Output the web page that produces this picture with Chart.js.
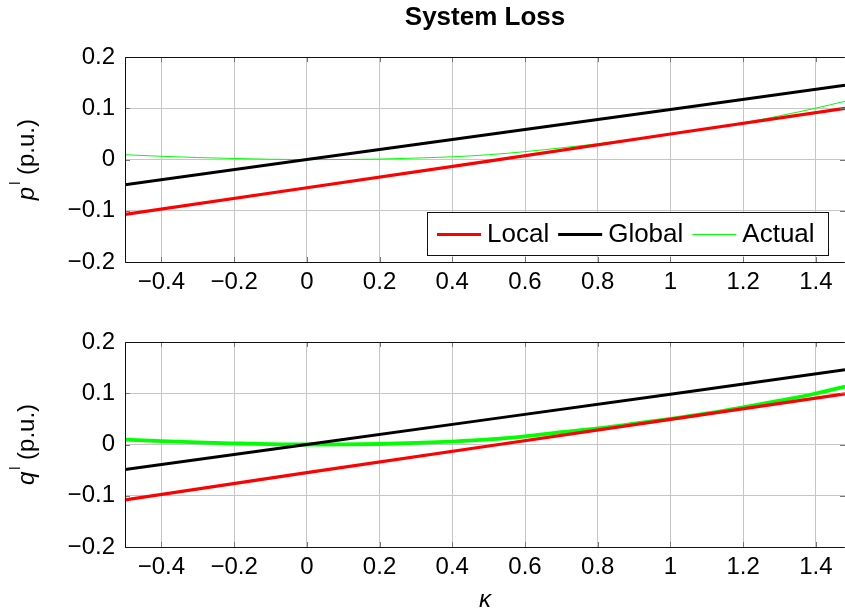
<!DOCTYPE html>
<html>
<head>
<meta charset="utf-8">
<script src="https://cdn.jsdelivr.net/npm/chart.js@4.4.1/dist/chart.umd.min.js"></script>
<style>
  html, body { margin: 0; padding: 0; background: #fff; }
  .panel { position: relative; width: 845px; }
  #panelP { height: 300px; }
  #panelQ { height: 315px; }
</style>
</head>
<body>
<div class="panel" id="panelP"><canvas id="chartP"></canvas></div>
<div class="panel" id="panelQ"><canvas id="chartQ"></canvas></div>
<script>
// ---- data ----
const seriesNames = ['Local', 'Global', 'Actual'];

// straight-line approximations (Local, Global)
const kappaLine = [-0.5, 0, 0.5, 1, 1.48];
const localP  = [-0.107, -0.055, -0.003, 0.050, 0.100];
const globalP = [-0.049,  0.000,  0.049, 0.098, 0.145];
const localQ  = [-0.108, -0.055, -0.003, 0.049, 0.099];
const globalQ = [-0.049,  0.000,  0.049, 0.098, 0.146];

// actual loss curve
const kappaActual = [-0.5, -0.4, -0.3, -0.2, -0.1, 0, 0.1, 0.2, 0.3, 0.4, 0.5,
                     0.6, 0.7, 0.8, 0.9, 1.0, 1.1, 1.2, 1.3, 1.4, 1.48];
const actualP = [0.0095, 0.0065, 0.0040, 0.0022, 0.0007, 0.0000, 0.0002, 0.0010, 0.0030, 0.0055, 0.0095,
                 0.0155, 0.0230, 0.0310, 0.0400, 0.0500, 0.0605, 0.0720, 0.0855, 0.1005, 0.1140];
const actualQ = [0.0095, 0.0065, 0.0040, 0.0022, 0.0007, 0.0000, 0.0002, 0.0010, 0.0030, 0.0058, 0.0098,
                 0.0160, 0.0240, 0.0315, 0.0405, 0.0500, 0.0605, 0.0725, 0.0855, 0.0995, 0.1130];

// axes
const xMin = -0.5, xMax = 1.48;
const yMin = -0.2, yMax = 0.2;
const xTicks = [-0.4, -0.2, 0, 0.2, 0.4, 0.6, 0.8, 1, 1.2, 1.4];
const xTickLabels = ['\u22120.4', '\u22120.2', '0', '0.2', '0.4', '0.6', '0.8', '1', '1.2', '1.4'];
const yTicks = [-0.2, -0.1, 0, 0.1, 0.2];
const yTickLabels = ['\u22120.2', '\u22120.1', '0', '0.1', '0.2'];

// ---- styling ----
const FONT = '"Liberation Sans", Arial, sans-serif';
const RED = '#ff0000', BLACK = '#000000', GREEN = '#00ff00';
const GRID = '#c6c6c6';

function pts(xs, ys) { return xs.map((x, i) => ({ x: x, y: ys[i] })); }

function makeDatasets(localY, globalY, actualY, actualWidth) {
  return [
    { label: seriesNames[0], data: pts(kappaLine, localY), borderColor: RED, borderWidth: 3.2 },
    { label: seriesNames[1], data: pts(kappaLine, globalY), borderColor: BLACK, borderWidth: 3 },
    { label: seriesNames[2], data: pts(kappaActual, actualY), borderColor: GREEN, borderWidth: actualWidth,
      cubicInterpolationMode: 'monotone' }
  ].map(d => Object.assign(d, { showLine: true, pointRadius: 0, fill: false, backgroundColor: d.borderColor }));
}

// frame with inward tick marks on all four sides
const framePlugin = {
  id: 'frame',
  afterDatasetsDraw(chart) {
    const { ctx, chartArea: a, scales } = chart;
    ctx.save();
    ctx.strokeStyle = '#777';
    ctx.lineWidth = 1;
    const tl = 5;
    ctx.beginPath();
    xTicks.forEach(v => {
      const px = Math.round(scales.x.getPixelForValue(v)) + 0.5;
      ctx.moveTo(px, a.bottom); ctx.lineTo(px, a.bottom - tl);
      ctx.moveTo(px, a.top); ctx.lineTo(px, a.top + tl);
    });
    yTicks.forEach(v => {
      const py = Math.round(scales.y.getPixelForValue(v)) + 0.5;
      ctx.moveTo(a.left, py); ctx.lineTo(a.left + tl, py);
      ctx.moveTo(a.right, py); ctx.lineTo(a.right - tl, py);
    });
    ctx.stroke();
    ctx.strokeStyle = '#111';
    ctx.beginPath();
    const l = Math.round(a.left) + 0.5, t = Math.round(a.top) + 0.5;
    const r = Math.round(a.right) - 0.5, b = Math.round(a.bottom) + 0.5;
    ctx.moveTo(r, t); ctx.lineTo(l, t); ctx.lineTo(l, b); ctx.lineTo(r, b);
    ctx.stroke();
    ctx.restore();
  }
};

// rotated y-axis title with italic symbol and superscript
const yTitlePlugin = {
  id: 'yTitle',
  afterDraw(chart, args, opts) {
    const { ctx, chartArea: a } = chart;
    const cy = (a.top + a.bottom) / 2;
    const fIt = 'italic 24px ' + FONT, fSup = '14px ' + FONT, fMain = '24px ' + FONT;
    const rest = ' (p.u.)';
    ctx.save();
    ctx.translate(opts.baseline, cy);
    ctx.rotate(-Math.PI / 2);
    ctx.fillStyle = '#000';
    ctx.textAlign = 'left';
    ctx.textBaseline = 'alphabetic';
    ctx.font = fIt; const w1 = ctx.measureText(opts.symbol).width;
    ctx.font = fSup; const w2 = ctx.measureText('l').width;
    ctx.font = fMain; const w3 = ctx.measureText(rest).width;
    let x = -(w1 + 2 + w2 + w3) / 2;
    ctx.font = fIt; ctx.fillText(opts.symbol, x, 0); x += w1 + 2;
    ctx.font = fSup; ctx.fillText('l', x, -14); x += w2;
    ctx.font = fMain; ctx.fillText(rest, x, 0);
    ctx.restore();
  }
};

// boxed legend placed inside the lower-right corner of the plot area
const legendBoxPlugin = {
  id: 'legendBox',
  afterDatasetsDraw(chart, args, opts) {
    if (!opts.show) return;
    const { ctx, chartArea: a } = chart;
    const sample = 44, gapS = 6, gapItem = 9, padL = 10, padR = 13, h = 43;
    ctx.save();
    ctx.font = '26px ' + FONT;
    const items = chart.data.datasets.map(d => ({ label: d.label, color: d.borderColor, lw: d.borderWidth,
      tw: ctx.measureText(d.label).width }));
    let w = padL + padR;
    items.forEach((it, i) => { w += sample + gapS + it.tw + (i < items.length - 1 ? gapItem : 0); });
    const right = Math.round(a.right) - 17, bottom = Math.round(a.bottom) - 7;
    const left = Math.round(right - w), top = bottom - h;
    ctx.fillStyle = '#fff';
    ctx.fillRect(left, top, right - left, h);
    ctx.strokeStyle = '#111'; ctx.lineWidth = 1;
    ctx.strokeRect(left + 0.5, top + 0.5, right - left, h);
    const cy = Math.round(top + h / 2) + 0.5;
    let x = left + padL;
    items.forEach(it => {
      ctx.strokeStyle = it.color; ctx.lineWidth = it.lw;
      ctx.beginPath(); ctx.moveTo(x, cy); ctx.lineTo(x + sample, cy); ctx.stroke();
      x += sample + gapS;
      ctx.fillStyle = '#000'; ctx.textAlign = 'left'; ctx.textBaseline = 'middle';
      ctx.fillText(it.label, x, cy);
      x += it.tw + gapItem;
    });
    ctx.restore();
  }
};

function makeOptions(cfg) {
  return {
    responsive: true,
    maintainAspectRatio: false,
    animation: false,
    layout: { padding: { top: cfg.padTop, left: 0, right: 0, bottom: 0 } },
    plugins: {
      legend: { display: false },
      tooltip: { enabled: false },
      title: cfg.title ? {
        display: true, text: cfg.title, fullSize: false, color: '#000',
        font: { family: FONT, size: 26, weight: 'bold' },
        padding: { top: 2, bottom: 24 }
      } : { display: false },
      yTitle: { symbol: cfg.symbol, baseline: 33.5 },
      legendBox: { show: cfg.legend }
    },
    scales: {
      x: {
        type: 'linear', min: xMin, max: xMax,
        afterBuildTicks: s => { s.ticks = xTicks.map(v => ({ value: v })); },
        afterFit: s => { s.height = cfg.xHeight; },
        ticks: {
          color: '#000', font: { family: FONT, size: 24 }, padding: 6, maxRotation: 0, autoSkip: false,
          callback: (v) => { const i = xTicks.findIndex(t => Math.abs(t - v) < 1e-9); return i >= 0 ? xTickLabels[i] : ''; }
        },
        grid: { color: GRID, lineWidth: 1, drawTicks: false },
        border: { display: false },
        title: cfg.xTitle ? {
          display: true, text: cfg.xTitle, color: '#000',
          font: { family: FONT, size: 24, style: 'italic' }, padding: { top: 0, bottom: 0 }
        } : { display: false }
      },
      y: {
        type: 'linear', min: yMin, max: yMax,
        afterBuildTicks: s => { s.ticks = yTicks.map(v => ({ value: v })); },
        afterFit: s => { s.width = 125; },
        ticks: {
          color: '#000', font: { family: FONT, size: 24 }, padding: 10,
          callback: (v) => { const i = yTicks.findIndex(t => Math.abs(t - v) < 1e-9); return i >= 0 ? yTickLabels[i] : ''; }
        },
        grid: { color: GRID, lineWidth: 1, drawTicks: false },
        border: { display: false }
      }
    }
  };
}

new Chart(document.getElementById('chartP'), {
  type: 'scatter',
  data: { datasets: makeDatasets(localP, globalP, actualP, 1) },
  options: makeOptions({ title: 'System Loss', padTop: 0, xHeight: 38, symbol: 'p', legend: true }),
  plugins: [framePlugin, legendBoxPlugin, yTitlePlugin]
});

new Chart(document.getElementById('chartQ'), {
  type: 'scatter',
  data: { datasets: makeDatasets(localQ, globalQ, actualQ, 3.8) },
  options: makeOptions({ padTop: 42, xHeight: 68, symbol: 'q', legend: false, xTitle: '\u03ba' }),
  plugins: [framePlugin, legendBoxPlugin, yTitlePlugin]
});
</script>
</body>
</html>
